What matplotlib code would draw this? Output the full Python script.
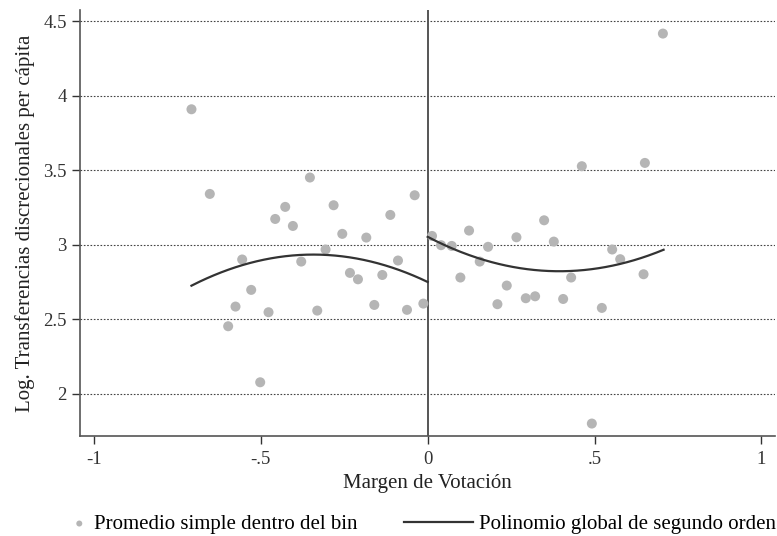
import numpy as np
import matplotlib
matplotlib.use("Agg")
import matplotlib.pyplot as plt

plt.rcParams['font.family'] = ['Liberation Serif', 'DejaVu Serif']

# bin means, left of the cutoff
x_left = [-0.708, -0.653, -0.353, -0.457, -0.427, -0.404, -0.282, -0.256, -0.184,
          -0.112, -0.039, -0.306, -0.556, -0.379, -0.233, -0.209, -0.089, -0.136,
          -0.529, -0.576, -0.598, -0.477, -0.331, -0.160, -0.062, -0.013, -0.502]
y_left = [3.909, 3.341, 3.451, 3.173, 3.254, 3.126, 3.265, 3.073, 3.048,
          3.200, 3.332, 2.968, 2.901, 2.887, 2.811, 2.768, 2.894, 2.797,
          2.697, 2.585, 2.453, 2.547, 2.558, 2.596, 2.563, 2.605, 2.077]

# bin means, right of the cutoff
x_right = [0.705, 0.462, 0.651, 0.349, 0.124, 0.266, 0.378, 0.013, 0.040, 0.072,
           0.181, 0.553, 0.156, 0.577, 0.098, 0.430, 0.647, 0.237, 0.209, 0.294,
           0.322, 0.406, 0.522, 0.492]
y_right = [4.417, 3.527, 3.549, 3.164, 3.095, 3.050, 3.021, 3.059, 2.997, 2.992,
           2.986, 2.968, 2.887, 2.903, 2.780, 2.780, 2.802, 2.726, 2.601, 2.641,
           2.654, 2.636, 2.576, 1.800]

# second order polynomial coefficients (c2, c1, c0)
poly_left = [-1.565, -1.073, 2.750]
poly_right = [1.48, -1.169, 3.053]
range_left = (-0.708, 0.0)
range_right = (0.0, 0.707)

xticks = [-1, -0.5, 0, 0.5, 1]
xtick_labels = ['-1', '-.5', '0', '.5', '1']
yticks = [2, 2.5, 3, 3.5, 4, 4.5]
ytick_labels = ['2', '2.5', '3', '3.5', '4', '4.5']

fig = plt.figure(figsize=(7.77, 5.36), dpi=100)
ax = fig.add_axes([0.103, 0.187, 0.894, 0.794])

ax.set_xlim(-1.042, 1.04)
ax.set_ylim(1.718, 4.574)

ax.grid(axis='y', linestyle=(0, (1.5, 1.5)), color='#444444', linewidth=0.8)
ax.set_axisbelow(True)

pts = ax.scatter(x_left + x_right, y_left + y_right, s=52, color='#b5b5b5',
                 edgecolors='none', zorder=3, label='Promedio simple dentro del bin')

xl = np.linspace(*range_left, 200)
xr = np.linspace(*range_right, 200)
line, = ax.plot(xl, np.polyval(poly_left, xl), color='#333333', lw=1.6, zorder=4,
                label='Polinomio global de segundo orden')
ax.plot(xr, np.polyval(poly_right, xr), color='#333333', lw=1.6, zorder=4)

ax.axvline(0, color='#555555', lw=1.4, zorder=2)

for side in ['top', 'right']:
    ax.spines[side].set_visible(False)
for side in ['left', 'bottom']:
    ax.spines[side].set_color('#555555')
    ax.spines[side].set_linewidth(1.2)

ax.set_xticks(xticks)
ax.set_xticklabels(xtick_labels)
ax.set_yticks(yticks)
ax.set_yticklabels(ytick_labels)
ax.tick_params(colors='#333333', labelsize=13.5, length=6, width=1, direction='out')
ax.tick_params(axis='x', pad=5)

ax.set_xlabel('Margen de Votación', fontsize=15, color='#222222', labelpad=4)
ax.set_ylabel('Log. Transferencias discrecionales per cápita', fontsize=15,
              color='#222222', labelpad=6)

leg1 = fig.legend(handles=[pts], loc='center left', bbox_to_anchor=(0.094, 0.022),
                  frameon=False, fontsize=15, handlelength=0.6, handletextpad=0.4,
                  markerscale=0.6, borderpad=0, borderaxespad=0)
leg2 = fig.legend(handles=[line], loc='center right', bbox_to_anchor=(0.999, 0.022),
                  frameon=False, fontsize=15, handlelength=3.3, handletextpad=0.3,
                  borderpad=0, borderaxespad=0)

fig.savefig('out.png', dpi=100)
